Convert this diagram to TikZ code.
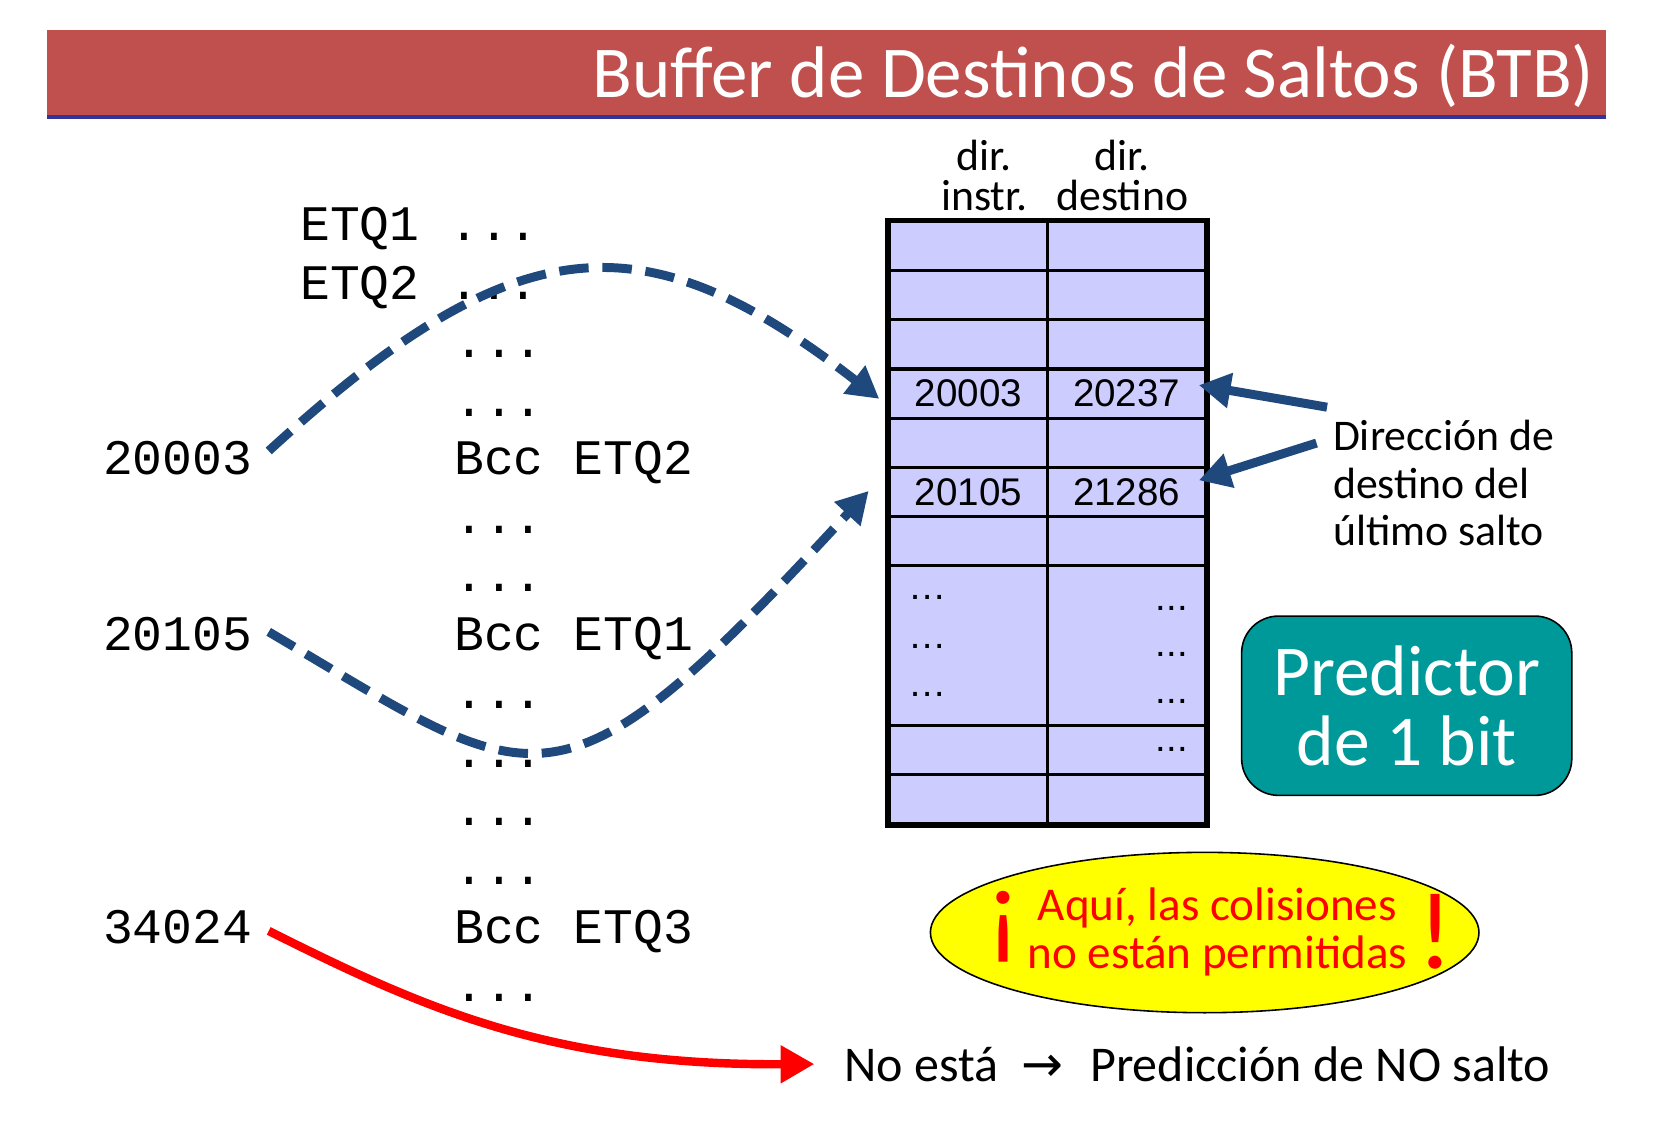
\documentclass[tikz,border=0pt]{standalone}
\usepackage{fontspec}
\setmainfont{Carlito}
\newfontfamily\codefont{Liberation Mono}
\newfontfamily\cellfont{Liberation Sans}
\newfontfamily\symfont{DejaVu Sans}
\newcommand{\bangsize}{\fontsize{29.6}{30}\selectfont}
\usepackage{tikz}
\usetikzlibrary{
    positioning,
    arrows.meta,
    shapes.geometric
}

\begin{document}
\begin{tikzpicture}[
    x=0.1mm, y=-0.1mm,
    code/.style={
        font=\codefont\fontsize{13.4}{14}\selectfont,
        anchor=base west,
        inner sep=0pt
    },
    cell/.style={
        draw,
        line width=0.3mm,
        fill=btbfill,
        minimum width=15mm,
        minimum height=4.66mm,
        inner sep=0pt,
        font=\cellfont\fontsize{10.4}{11}\selectfont,
        anchor=center
    },
    dots/.style={
        font=\cellfont\fontsize{10.3}{11}\selectfont,
        inner sep=0pt
    },
    hdr/.style={
        font=\fontsize{11.8}{10.8}\selectfont,
        align=center
    },
    note/.style={
        font=\fontsize{11.8}{12.7}\selectfont,
        align=left,
        inner sep=0pt
    },
    jump/.style={
        draw=jumpblue,
        line width=0.85mm,
        dash pattern=on 2.8mm off 1.3mm,
        -{Triangle[length=3mm,width=3.2mm]}
    },
    pointer/.style={
        draw=jumpblue,
        line width=0.85mm,
        -{Triangle[length=3mm,width=3.2mm]}
    },
    miss/.style={
        draw=missred,
        line width=0.8mm,
        -{Triangle[length=3.2mm,width=3.4mm]}
    },
    pred/.style={
        draw,
        line width=0.15mm,
        rounded corners=3.5mm,
        fill=predteal,
        text=white,
        minimum width=31.3mm,
        minimum height=17mm,
        align=center,
        font=\fontsize{19.3}{18.8}\selectfont
    },
    warnell/.style={
        draw,
        ellipse,
        line width=0.15mm,
        fill=warnyel,
        minimum width=52mm,
        minimum height=15.2mm,
        inner sep=0pt
    },
    warntext/.style={
        text=missred,
        font=\fontsize{12.7}{12.8}\selectfont,
        inner sep=0pt
    }]
    \definecolor{titlered}{RGB}{192, 80, 77}
    \definecolor{rulebl}{RGB}{51, 51, 153}
    \definecolor{btbfill}{RGB}{204, 204, 255}
    \definecolor{jumpblue}{RGB}{31, 73, 125}
    \definecolor{predteal}{RGB}{0, 153, 153}
    \definecolor{warnyel}{RGB}{255, 255, 0}
    \definecolor{missred}{RGB}{255, 0, 0}

    \useasboundingbox (0,0) rectangle (1567,1084);

    % title bar
    \fill[titlered] (45,28) rectangle (1522,110);
    \fill[rulebl] (45,109) rectangle (1522,113);
    \node[anchor=base east, text=white, inner sep=0pt,
        font=\fontsize{19.7}{20}\selectfont] (title) at (1512,92)
        {Buffer de Destinos de Saltos (BTB)};

    % code listing
    \node[code] (ln1) at (284,228) {ETQ1 ...};
    \node[code] (ln2) at (284,283.5) {ETQ2 ...};
    \node[code] (ln3) at (430,339) {...};
    \node[code] (ln4) at (430,394.5) {...};
    \node[code] (ln5) at (430,450) {Bcc ETQ2};
    \node[code] (ln6) at (430,505.5) {...};
    \node[code] (ln7) at (430,561) {...};
    \node[code] (ln8) at (430,616.5) {Bcc ETQ1};
    \node[code] (ln9) at (430,672) {...};
    \node[code] (ln10) at (430,727.5) {...};
    \node[code] (ln11) at (430,783) {...};
    \node[code] (ln12) at (430,838.5) {...};
    \node[code] (ln13) at (430,894) {Bcc ETQ3};
    \node[code] (ln14) at (430,949.5) {...};

    \node[code] (addr1) at (97,450) {20003};
    \node[code] (addr2) at (97,616.5) {20105};
    \node[code] (addr3) at (97,894) {34024};

    % BTB table
    \foreach \r/\y/\h/\a/\b in {1/233.3/4.66/{}/{}, 2/279.9/4.66/{}/{},
        3/326.5/4.66/{}/{}, 4/373.1/4.66/20003/20237, 5/419.7/4.66/{}/{},
        6/466.3/4.66/20105/21286, 7/512.9/4.66/{}/{}, 8/612.05/15.17/{}/{},
        9/711.2/4.66/{}/{}, 10/757.8/4.66/{}/{}} {
        \node[cell, minimum height=\h*1mm] (c\r-1) at (918,\y) {\a};
        \node[cell, minimum height=\h*1mm] (c\r-2) at (1068,\y) {\b};
    }
    \draw[line width=0.45mm] (c1-1.north west) rectangle (c10-2.south east);

    \foreach \d in {0,1,2} {
        \node[dots, anchor=base west] at ([shift={(19,34+46*\d)}]c8-1.north west) {…};
        \node[dots, anchor=base east] at ([shift={(-18,44+44*\d)}]c8-2.north east) {...};
    }
    \node[dots, anchor=base east] at ([shift={(-18,26)}]c9-2.north east) {...};

    \node[hdr, above=-0.4mm of c1-1, xshift=1.5mm] (hdr1) {dir.\\instr.};
    \node[hdr, above=-0.4mm of c1-2, xshift=-0.4mm] (hdr2) {dir.\\destino};

    % right side notes
    \node[note, anchor=north west] (lastjump) at (1263,398)
        {Dirección de\\destino del\\último salto};
    \coordinate (tail1) at (1258,386);
    \coordinate (tail2) at (1248,420);
    \draw[pointer] (tail1) -- ([shift={(-8,-8)}]c4-2.east);
    \draw[pointer] (tail2) -- ([shift={(-8,-11)}]c6-2.east);

    \node[pred] (pred) at (1333.5,669) {Predictor\\de 1 bit};

    \node[warnell] (warn) at (1142,884) {};
    \node[warntext, anchor=base] (warnmsg) at ([shift={(14,34)}]warn.center)
        {\raisebox{2.3mm}{\bangsize ¡}\hspace{0.6mm}\begin{tabular}[b]{@{}c@{}}Aquí, las colisiones\\no están permitidas\end{tabular}\hspace{1mm}{\bangsize !}};

    \node[note, anchor=base west, font=\fontsize{13.5}{14}\selectfont] (nojump) at (800,1025)
        {No está\hspace{2.2mm}{\symfont →}\hspace{2.5mm}Predicción de NO salto};

    % jumps
    \draw[jump] ([shift={(15,-7)}]addr1.east) .. controls (490,212) and (610,205) .. ([shift={(-8,5)}]c4-1.west);
    \draw[jump] ([shift={(15,-2)}]addr2.east) .. controls (513,751) and (525,789) .. ([shift={(-18,-1)}]c6-1.west);
    \draw[miss] ([shift={(15,4)}]addr3.east) .. controls (400,955) and (520,1010) .. ([shift={(-28,0)}]nojump.west);
\end{tikzpicture}
\end{document}
